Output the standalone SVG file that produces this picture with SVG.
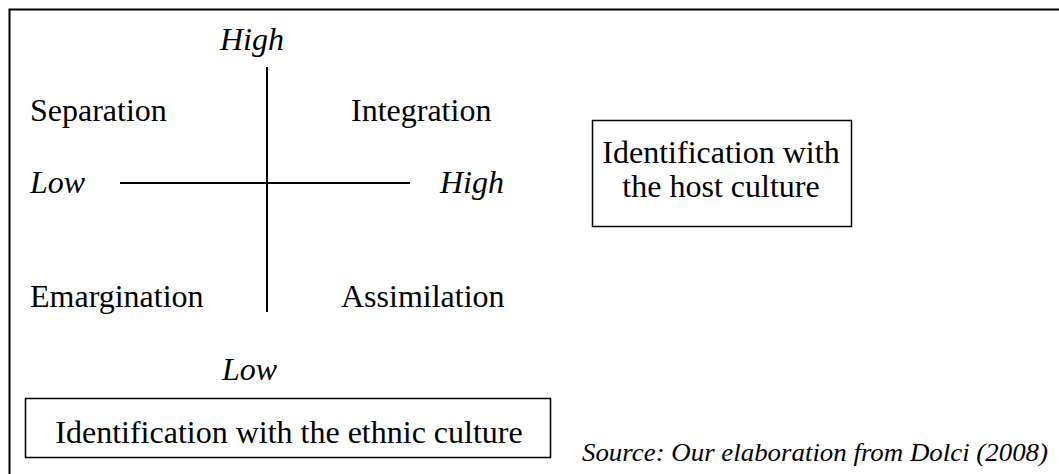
<svg xmlns="http://www.w3.org/2000/svg" width="1059" height="474" viewBox="0 0 1059 474">
<style>
.box{fill:#fff;stroke:#000;stroke-width:1.5}
.ax{stroke:#000;stroke-width:2}
</style>
<rect width="1059" height="474" fill="#fff"/>
<g id="frame"><path d="M9.5,474 V9.5 H1059" fill="none" stroke="#000" stroke-width="2"/></g>
<g id="connectors">
<line class="ax" x1="267" y1="67" x2="267" y2="312"/>
<line class="ax" x1="120" y1="183" x2="410" y2="183"/>
</g>
<g id="labels">
<text font-family="Times New Roman" font-size="32" font-style="italic" x="220" y="50">High</text>
<text font-family="Times New Roman" font-size="32" font-style="italic" x="30" y="193">Low</text>
<text font-family="Times New Roman" font-size="32" font-style="italic" x="440" y="193">High</text>
<text font-family="Times New Roman" font-size="32" font-style="italic" x="222" y="380">Low</text>
</g>
<g id="separation"><text font-family="Times New Roman" font-size="32" x="30" y="121">Separation</text></g>
<g id="integration"><text font-family="Times New Roman" font-size="32" x="351" y="121">Integration</text></g>
<g id="emargination"><text font-family="Times New Roman" font-size="32" x="30" y="307">Emargination</text></g>
<g id="assimilation"><text font-family="Times New Roman" font-size="32" x="341" y="307">Assimilation</text></g>
<g id="host">
<rect class="box" x="592.5" y="120.5" width="259" height="106"/>
<text font-family="Times New Roman" font-size="32" x="721" y="163" text-anchor="middle">Identification with</text>
<text font-family="Times New Roman" font-size="32" x="721" y="197" text-anchor="middle">the host culture</text>
</g>
<g id="ethnic">
<rect class="box" x="25.5" y="398.5" width="525" height="59"/>
<text font-family="Times New Roman" font-size="32" x="289" y="443" text-anchor="middle">Identification with the ethnic culture</text>
</g>
<g id="source"><text font-family="Times New Roman" font-style="italic" x="582" y="461" font-size="25" textLength="466" lengthAdjust="spacingAndGlyphs">Source: Our elaboration from Dolci (2008)</text></g>
</svg>
